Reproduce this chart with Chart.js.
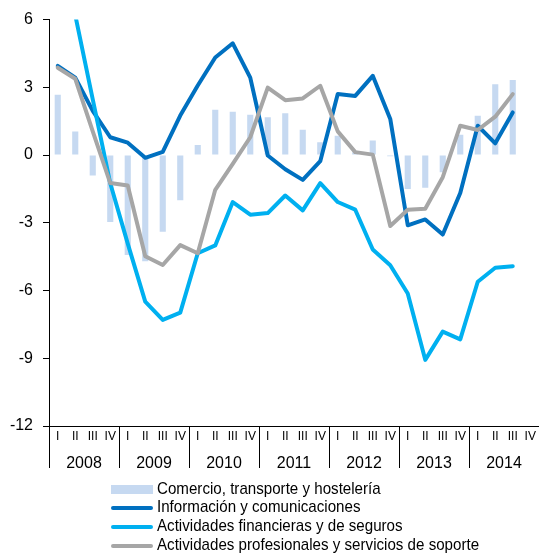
<!DOCTYPE html>
<html lang="es">
<head>
<meta charset="utf-8">
<script src="https://cdn.jsdelivr.net/npm/chart.js@4/dist/chart.umd.min.js"></script>
<style>
	html, body { margin: 0; padding: 0; background: #fff; }
	#wrap { position: relative; width: 539px; height: 555px; overflow: hidden; }
	#legend {
		position: absolute; left: 111px; top: 479.6px;
		font: 17px 'Liberation Sans', Arial, sans-serif; color: #000;
	}
	#legend .row { height: 18.8px; line-height: 18.8px; white-space: nowrap; }
	#legend .sw { display: inline-block; width: 42px; vertical-align: middle; margin-right: 4px; }
	#legend .txt { display: inline-block; transform: scaleX(0.89); transform-origin: left center; }
</style>
</head>
<body>
<div id="wrap">
	<canvas id="chart" width="539" height="555"></canvas>
	<div id="legend"></div>
</div>
<script>
	// Ejes
	const years    = ['2008', '2009', '2010', '2011', '2012', '2013', '2014'];
	const quarters = ['I', 'II', 'III', 'IV'];
	const yTicks   = [-12, -9, -6, -3, 0, 3, 6];

	// Series (tasas, I TR 2008 - III TR 2014)
	const comercio = [2.67, 1.04, -0.90, -2.96, -4.43, -4.70, -3.40, -2.00, 0.45, 2.01, 1.92, 1.79, 1.67, 1.85,
		1.12, 0.57, 0.86, 0.12, 0.64, -0.05, -1.50, -1.45, -0.76, 0.90, 1.74, 3.14, 3.33];
	const informacion = [3.95, 3.43, 1.96, 0.79, 0.55, -0.12, 0.14, 1.75, 3.08, 4.32, 4.95, 3.43, -0.02, -0.63,
		-1.10, -0.27, 2.70, 2.62, 3.51, 1.60, -3.11, -2.85, -3.52, -1.68, 1.30, 0.52, 1.89];
	const financieras = [8.5, 6.2, 2.47, -1.25, -3.92, -6.49, -7.30, -6.98, -4.35, -4.00, -2.08, -2.64, -2.57, -1.79,
		-2.45, -1.24, -2.08, -2.42, -4.18, -4.88, -6.13, -9.07, -7.82, -8.16, -5.61, -4.99, -4.92];
	const profesionales = [3.87, 3.38, 1.05, -1.24, -1.35, -4.48, -4.87, -3.99, -4.35, -1.54, -0.39, 0.79, 2.99, 2.43,
		2.51, 3.07, 1.05, 0.13, 0.02, -3.14, -2.42, -2.38, -0.98, 1.30, 1.11, 1.70, 2.70];

	const categories = years.flatMap( y => quarters.map( q => q + ' ' + y ) );
	const fontFamily = "'Liberation Sans', Arial, sans-serif";

	function lineSet(label, data, color, order) {
		return {
			type: 'line',
			label: label,
			data: data,
			borderColor: color,
			backgroundColor: color,
			borderWidth: 4,
			pointRadius: 0,
			tension: 0,
			borderJoinStyle: 'round',
			borderCapStyle: 'round',
			order: order
		};
	}

	const chart = new Chart(
		document.getElementById( 'chart' ),
		{
			data: {
				labels: categories,
				datasets: [
					{
						type: 'bar',
						label: 'Comercio, transporte y hostelería',
						data: comercio,
						backgroundColor: '#c6d9f1',
						categoryPercentage: 1,
						barPercentage: 0.35,
						order: 4
					},
					lineSet( 'Información y comunicaciones', informacion, '#0070c0', 3 ),
					lineSet( 'Actividades financieras y de seguros', financieras, '#00b0f0', 2 ),
					lineSet( 'Actividades profesionales y servicios de soporte', profesionales, '#a6a6a6', 1 )
				]
			},
			options: {
				responsive: false,
				animation: false,
				devicePixelRatio: 1,
				layout: { padding: { left: 9, top: 19, right: 0, bottom: 82 } },
				plugins: {
					legend: { display: false },
					tooltip: { enabled: false }
				},
				scales: {
					x: {
						type: 'category',
						offset: true,
						grid: {
							display: true,
							offset: true,
							drawOnChartArea: false,
							tickLength: 42,
							// solo separadores entre años
							color: ctx => (ctx.index % 4 === 0 ? '#000' : 'rgba(0,0,0,0)'),
							lineWidth: 1
						},
						border: { display: true, color: '#000', width: 1 },
						ticks: {
							autoSkip: false,
							maxRotation: 0,
							padding: -39,
							color: '#000',
							font: { family: fontFamily, size: 12 },
							callback: (v, i) => quarters[i % 4]
						},
						afterFit: scale => { scale.height = 17; }
					},
					xYear: {
						type: 'category',
						position: 'bottom',
						labels: years,
						offset: true,
						weight: 1,
						grid: { display: false },
						border: { display: false },
						ticks: {
							autoSkip: false,
							maxRotation: 0,
							padding: 3,
							color: '#000',
							font: { family: fontFamily, size: 16 }
						},
						afterFit: scale => { scale.height = 30; }
					},
					y: {
						min: yTicks[0],
						max: yTicks[yTicks.length - 1],
						afterBuildTicks: scale => { scale.ticks = yTicks.map( v => ({ value: v }) ); },
						grid: {
							drawOnChartArea: false,
							tickLength: 6,
							color: '#000'
						},
						border: { display: true, color: '#000', width: 1 },
						ticks: {
							padding: 10,
							color: '#000',
							font: { family: fontFamily, size: 16 }
						},
						afterFit: scale => { scale.width = 40; }
					}
				}
			}
		}
	);

	// Leyenda en HTML (una serie por línea)
	const legend = document.getElementById( 'legend' );
	chart.data.datasets.forEach( ds => {
		const row = document.createElement( 'div' );
		row.className = 'row';
		const sw = document.createElement( 'span' );
		sw.className = 'sw';
		if (ds.type === 'bar') {
			sw.style.height = '9px';
			sw.style.background = ds.backgroundColor;
		} else {
			sw.style.height = '4px';
			sw.style.borderRadius = '2px';
			sw.style.background = ds.borderColor;
		}
		const txt = document.createElement( 'span' );
		txt.className = 'txt';
		txt.textContent = ds.label;
		row.appendChild( sw );
		row.appendChild( txt );
		legend.appendChild( row );
	} );
</script>
</body>
</html>
